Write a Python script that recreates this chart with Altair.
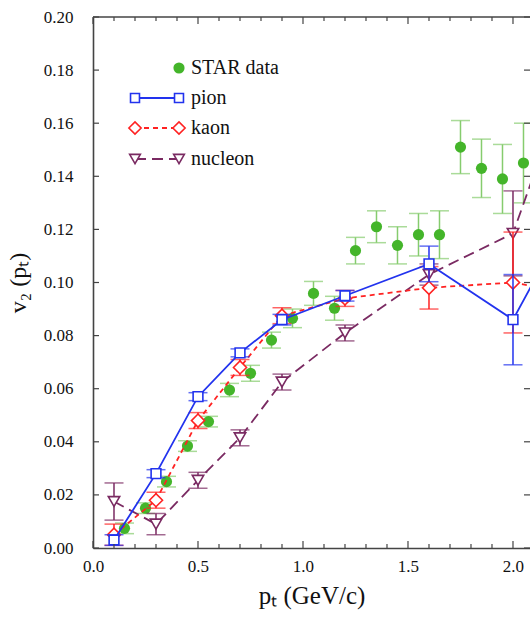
import altair as alt
import pandas as pd

# ---------------- data ----------------
star_pt = [0.15, 0.25, 0.35, 0.45, 0.55, 0.65, 0.75, 0.85, 0.95, 1.05,
           1.15, 1.25, 1.35, 1.45, 1.55, 1.65, 1.75, 1.85, 1.95, 2.05]
star_v2 = [0.0074, 0.015, 0.025, 0.0384, 0.0476, 0.0595, 0.0658, 0.0783, 0.0865, 0.0959,
           0.0903, 0.112, 0.121, 0.114, 0.118, 0.118, 0.151, 0.143, 0.139, 0.145]
star_err = [0.002, 0.002, 0.002, 0.002, 0.002, 0.0025, 0.003, 0.003, 0.0035, 0.0045,
            0.0045, 0.005, 0.006, 0.007, 0.008, 0.009, 0.010, 0.011, 0.013, 0.015]

model_pt = [0.1, 0.3, 0.5, 0.7, 0.9, 1.2, 1.6, 2.0, 2.2]
pion_v2 = [0.003, 0.028, 0.057, 0.0735, 0.086, 0.095, 0.107, 0.086, 0.115]
pion_err = [0.002, 0.0015, 0.0015, 0.0015, 0.002, 0.002, 0.0067, 0.017, 0.017]
kaon_v2 = [0.005, 0.018, 0.048, 0.068, 0.0875, 0.094, 0.098, 0.100, 0.097]
kaon_err = [0.004, 0.003, 0.003, 0.003, 0.003, 0.003, 0.008, 0.019, 0.019]
nucleon_v2 = [0.0175, 0.009, 0.0255, 0.0415, 0.0625, 0.081, 0.103, 0.1185, 0.163]
nucleon_err = [0.007, 0.004, 0.003, 0.003, 0.003, 0.003, 0.004, 0.016, 0.016]

x_major = [0.0, 0.5, 1.0, 1.5, 2.0]
x_minor = [0.1, 0.2, 0.3, 0.4, 0.6, 0.7, 0.8, 0.9, 1.1, 1.2, 1.3, 1.4,
           1.6, 1.7, 1.8, 1.9]
y_ticks = [0.0, 0.02, 0.04, 0.06, 0.08, 0.10, 0.12, 0.14, 0.16, 0.18, 0.20]
legend_labels = ["STAR data", "pion", "kaon", "nucleon"]

# ---------------- layout / style ----------------
W, H = 437, 531
XMAX = 2.081
FONT = "Liberation Serif"
AX = "#444444"

xs = alt.Scale(domain=[0, XMAX], nice=False, zero=False)
ys = alt.Scale(domain=[0, 0.2], nice=False, zero=False)

def table(pt, v, e):
    return pd.DataFrame({"pt": pt, "v2": v,
                         "lo": [a - b for a, b in zip(v, e)],
                         "hi": [a + b for a, b in zip(v, e)]})

def series(df, color, shape, size, dash=None, line=True, filled=False, bar_color=None):
    base = alt.Chart(df)
    bc = bar_color or color
    layers = []
    if line:
        kw = dict(color=color, strokeWidth=1.8, clip=True)
        if dash:
            kw["strokeDash"] = dash
        layers.append(base.mark_line(**kw).encode(
            x=alt.X("pt:Q", scale=xs), y=alt.Y("v2:Q", scale=ys), order="pt:Q"))
    layers.append(base.mark_rule(color=bc, strokeWidth=1.5, clip=True).encode(
        x=alt.X("pt:Q", scale=xs), y=alt.Y("lo:Q", scale=ys), y2="hi:Q"))
    for f in ["lo", "hi"]:
        layers.append(base.mark_tick(color=bc, orient="horizontal", size=19,
                                     thickness=1.5, clip=True).encode(
            x=alt.X("pt:Q", scale=xs), y=alt.Y(f + ":Q", scale=ys)))
    if filled:
        pm = base.mark_point(shape=shape, size=size, filled=True, color=color,
                             opacity=1, clip=True)
    else:
        pm = base.mark_point(shape=shape, size=size, filled=True, fill="white",
                             stroke=color, strokeWidth=1.6, opacity=1, clip=True)
    layers.append(pm.encode(x=alt.X("pt:Q", scale=xs), y=alt.Y("v2:Q", scale=ys)))
    return layers

GREEN, GREEN_BAR = "#44b52a", "#86cc6e"
BLUE, RED, PURPLE = "#2233ee", "#ff2222", "#7a2a62"

layers = []
layers += series(table(star_pt, star_v2, star_err), GREEN, "circle", 125,
                 line=False, filled=True, bar_color=GREEN_BAR)
layers += series(table(model_pt, nucleon_v2, nucleon_err), PURPLE, "triangle-down", 130,
                 dash=[11, 6])
layers += series(table(model_pt, kaon_v2, kaon_err), RED, "diamond", 170, dash=[5, 4])
layers += series(table(model_pt, pion_v2, pion_err), BLUE, "square", 95)

# ---------------- ticks (inward) ----------------
def xticks(vals, length):
    d = pd.DataFrame({"t": vals})
    b = alt.Chart(d).mark_rule(color=AX, strokeWidth=1.2)
    return [b.encode(x=alt.X("t:Q", scale=xs), y=alt.value(H), y2=alt.value(H - length)),
            b.encode(x=alt.X("t:Q", scale=xs), y=alt.value(0), y2=alt.value(length))]

layers += xticks(x_major, 7)
layers += xticks(x_minor, 4)
yt = alt.Chart(pd.DataFrame({"t": y_ticks})).mark_rule(color=AX, strokeWidth=1.2)
layers.append(yt.encode(y=alt.Y("t:Q", scale=ys), x=alt.value(0), x2=alt.value(6)))
layers.append(yt.encode(y=alt.Y("t:Q", scale=ys), x=alt.value(W - 6), x2=alt.value(W)))

one = pd.DataFrame({"k": [0]})
# top frame line
layers.append(alt.Chart(one).mark_rule(color=AX, strokeWidth=1.6).encode(
    x=alt.value(0), x2=alt.value(W), y=alt.value(0)))

# ---------------- legend ----------------
ly = [51, 81, 111, 142]
lx0, lx1, ltx = 42, 86, 98
leg = alt.Chart(one)
layers.append(leg.mark_point(shape="circle", size=125, filled=True, color=GREEN,
                             opacity=1).encode(x=alt.value(lx1), y=alt.value(ly[0])))
specs = [(BLUE, "square", 80, None), (RED, "diamond", 150, [5, 4]),
         (PURPLE, "triangle-down", 115, [11, 6])]
for i, (c, sh, sz, dash) in enumerate(specs):
    yy = ly[i + 1]
    kw = dict(color=c, strokeWidth=1.8)
    if dash:
        kw["strokeDash"] = dash
    layers.append(leg.mark_rule(**kw).encode(
        x=alt.value(lx0), x2=alt.value(lx1), y=alt.value(yy)))
    for xx in (lx0, lx1):
        layers.append(leg.mark_point(shape=sh, size=sz, filled=True, fill="white",
                                     stroke=c, strokeWidth=1.6, opacity=1).encode(
            x=alt.value(xx), y=alt.value(yy)))
for i, lab in enumerate(legend_labels):
    layers.append(alt.Chart(pd.DataFrame({"label": [lab]})).mark_text(
        font=FONT, fontSize=20, align="left", baseline="middle", color="#111111").encode(
        x=alt.value(ltx), y=alt.value(ly[i]), text="label:N"))

# ---------------- axes (carried by an invisible layer) ----------------
axis_layer = alt.Chart(pd.DataFrame({"pt": [0.0], "v2": [0.0]})).mark_point(opacity=0).encode(
    x=alt.X("pt:Q", scale=xs, axis=alt.Axis(
        values=x_major, format=".1f", ticks=False, grid=False, domainColor=AX,
        domainWidth=1.6, labelFont=FONT, labelFontSize=17, labelColor="#111111",
        labelPadding=10, labelFlush=False, title="pₜ (GeV/c)", titleFont=FONT,
        titleFontSize=25, titleFontWeight="normal", titleColor="#111111",
        titlePadding=9)),
    y=alt.Y("v2:Q", scale=ys, axis=alt.Axis(
        values=y_ticks, format=".2f", ticks=False, grid=False, domainColor=AX,
        domainWidth=1.6, labelFont=FONT, labelFontSize=17, labelColor="#111111",
        labelPadding=20, labelFlush=False, title="v₂ (pₜ)", titleFont=FONT,
        titleFontSize=24, titleFontWeight="normal", titleColor="#111111",
        titlePadding=13)))

chart = alt.layer(axis_layer, *layers).properties(
    width=W, height=H,
    padding={"left": 93, "top": 17, "right": 0, "bottom": 70},
    autosize=alt.AutoSizeParams(type="none"),
    background="white",
).configure_view(stroke=None)

chart.save("out.html", embed_options={"renderer": "svg", "actions": False})
